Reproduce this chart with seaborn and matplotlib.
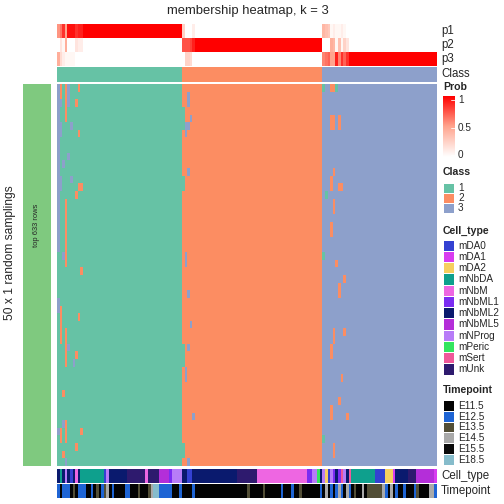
import numpy as np
import matplotlib
matplotlib.use("Agg")
import matplotlib.pyplot as plt
import seaborn as sns
from matplotlib.colors import ListedColormap, LinearSegmentedColormap
from matplotlib.patches import Rectangle

W, H = 504, 504

# ---- data ----
N_ROWS = 50
col_class = [1] * 48 + [2] * 54 + [3] * 44

# membership probabilities per column (left to right)
p1 = [0.55, 0.65, 0.85, 0.5, 0.95, 0.95, 0.95, 0.85, 0.9, 0.9] + [1.0] * 38 \
    + [0.25, 0.0, 0.0, 0.0, 0.1] + [0.0] * 49 \
    + [0.4, 0.35, 0.3, 0.05, 0.1, 0.05, 0.05, 0.1, 0.05, 0.0] + [0.0] * 34
p2 = [0.0, 0.15, 0.05, 0.45, 0.0, 0.0, 0.0, 0.15, 0.1, 0.1] + [0.0] * 38 \
    + [0.75, 0.75, 0.75, 0.8, 0.9] + [1.0] * 49 \
    + [0.0, 0.0, 0.0, 0.45, 0.4, 0.05, 0.35, 0.05, 0.25, 0.15] + [0.0] * 34
p3 = [0.45, 0.2, 0.1, 0.05, 0.05, 0.05, 0.05, 0.0, 0.0, 0.0] + [0.0] * 38 \
    + [0.0, 0.25, 0.25, 0.2, 0.0] + [0.0] * 49 \
    + [0.6, 0.65, 0.7, 0.5, 0.5, 0.9, 0.6, 0.85, 0.7, 0.85] + [1.0] * 34

# class of each random sampling (row) for the columns that are not stable
unstable_cols = {
    0: "3333333333" "3333333333" "3311111133" "1111111111" "1111131111",
    1: "2231133111" "1133111111" "1111111112" "2222111111" "1111122111",
    2: "1111111111" "3111111111" "1131111111" "1111111111" "2111311121",
    3: "2222211111" "1111122222" "2222111111" "1122222111" "1111222113",
    4: "3331111113" "1111111111" "1111111111" "1111311111" "1111111111",
    5: "1111131111" "1131111111" "1111111111" "1111111111" "1111111111",
    6: "1111111111" "1111111111" "1111111111" "1111113111" "1111111111",
    7: "1121111111" "1111211111" "1111111111" "1111121111" "1111111211",
    8: "2111112111" "1112111111" "1111111111" "2111111111" "1111111111",
    9: "1111111111" "1112111111" "1111211111" "1111111111" "1111121111",
    48: "2221112222" "2211222222" "2222222222" "2222111222" "2222222112",
    49: "2222233222" "2222222222" "2233222222" "2222222332" "2222222222",
    50: "2332232222" "2322222222" "2222222322" "2222322222" "2222222223",
    51: "2222322222" "2222222222" "2222222222" "2322222222" "2222222222",
    52: "2222222222" "2222222222" "2222222222" "2222222222" "2223222222",
    102: "1333333333" "3333333333" "3313333333" "3333333333" "3333331333",
    103: "3333333333" "3333133333" "3333333333" "3333333333" "3333333333",
    105: "2333223333" "3322333322" "3333333333" "3333223333" "3322333333",
    106: "2333223333" "3233322333" "3333333333" "3322333333" "3333333223",
    107: "1333333333" "3333333333" "3332333333" "3333333333" "3333333333",
    108: "3333223333" "3332333333" "3333332233" "3333333333" "3233333333",
    109: "3333333333" "3332333333" "3333333333" "3333333323" "3333333333",
    110: "3333333333" "3333333333" "3333323333" "3323333333" "3333333333",
    111: "3333333333" "3333333333" "3333333333" "3333333333" "3332333333",
}

cell_types = ["mDA0", "mDA1", "mDA2", "mNbDA", "mNbM", "mNbML1", "mNbML2",
              "mNbML5", "mNProg", "mPeric", "mSert", "mUnk"]
cell_colors = ["#3441D2", "#D83CF0", "#F6CF5F", "#0EA08D", "#EE66E2", "#7B2CF2",
               "#0A1A6E", "#B42ED9", "#B77CF8", "#33E55F", "#F0589A", "#2E1A6E"]
cell_type_runs = [
    ("mNbML2", 1), ("mNbDA", 1), ("mNbML2", 1), ("mNProg", 1), ("mNbML2", 1),
    ("mDA0", 1), ("mNbML2", 1), ("mNbM", 1), ("mNbML2", 1), ("mNbDA", 9),
    ("mDA0", 1), ("mNProg", 1), ("mNbML2", 7), ("mUnk", 7), ("mNbM", 1),
    ("mUnk", 4), ("mNbML5", 4), ("mNbML1", 1), ("mNProg", 4),
    ("mNbML2", 2), ("mDA0", 2), ("mNbML2", 17), ("mUnk", 8), ("mNbM", 19),
    ("mNbML1", 2), ("mNProg", 2), ("mPeric", 1), ("mNbML2", 1),
    ("mNProg", 1), ("mDA2", 1), ("mDA0", 1), ("mNProg", 1), ("mNbML1", 1),
    ("mNbML2", 1), ("mNbML1", 1), ("mSert", 1), ("mNProg", 1), ("mNbML2", 1),
    ("mSert", 1), ("mNbDA", 9), ("mDA0", 4), ("mDA2", 3), ("mDA1", 1),
    ("mNbML2", 5), ("mUnk", 3), ("mNbML5", 7), ("mDA1", 1),
]

timepoints = ["E11.5", "E12.5", "E13.5", "E14.5", "E15.5", "E18.5"]
time_colors = ["#030303", "#1E64D4", "#524E36", "#A9A9A9", "#0A0A0A", "#86BCCB"]
timepoint_runs = [
    ("E12.5", 1), ("E11.5", 1), ("E12.5", 3), ("E11.5", 1), ("E13.5", 1),
    ("E11.5", 1), ("E12.5", 3), ("E11.5", 2), ("E12.5", 1), ("E11.5", 1),
    ("E13.5", 1), ("E11.5", 1), ("E12.5", 1), ("E13.5", 1), ("E14.5", 1),
    ("E11.5", 1), ("E12.5", 1), ("E11.5", 4), ("E12.5", 2), ("E11.5", 3),
    ("E13.5", 1), ("E11.5", 3), ("E13.5", 1), ("E14.5", 1), ("E18.5", 2),
    ("E12.5", 5), ("E11.5", 3), ("E12.5", 1),
    ("E11.5", 4), ("E12.5", 1), ("E11.5", 20), ("E13.5", 1), ("E11.5", 5),
    ("E13.5", 1), ("E11.5", 6), ("E12.5", 1), ("E11.5", 3), ("E12.5", 1),
    ("E11.5", 2), ("E13.5", 1), ("E11.5", 7), ("E12.5", 1),
    ("E11.5", 1), ("E14.5", 1), ("E11.5", 1), ("E12.5", 1), ("E11.5", 1),
    ("E12.5", 1), ("E14.5", 1), ("E12.5", 1), ("E11.5", 1), ("E14.5", 1),
    ("E12.5", 1), ("E11.5", 1), ("E13.5", 1), ("E11.5", 2), ("E14.5", 1),
    ("E11.5", 1), ("E13.5", 6), ("E14.5", 1), ("E12.5", 1), ("E11.5", 1),
    ("E14.5", 1), ("E11.5", 1), ("E12.5", 1), ("E11.5", 2), ("E12.5", 1),
    ("E11.5", 3), ("E12.5", 1), ("E13.5", 1), ("E11.5", 4), ("E14.5", 2),
    ("E12.5", 1),
]

class_colors = ["#66C2A5", "#FC8D62", "#8DA0CB"]

# ---- build matrices ----
membership = np.tile(col_class, (N_ROWS, 1))
for c, s in unstable_cols.items():
    membership[:, c] = [int(ch) for ch in s]

cell_idx = [cell_types.index(n) for n, k in cell_type_runs for _ in range(k)]
time_idx = [timepoints.index(n) for n, k in timepoint_runs for _ in range(k)]

# ---- style ----
sns.set_theme(style="white")
plt.rcParams["font.family"] = ["Liberation Sans", "DejaVu Sans"]

prob_cmap = LinearSegmentedColormap.from_list(
    "prob", [(0, "#FFFFFF"), (0.5, "#FFA58F"), (1, "#FF0000")])
class_cmap = ListedColormap(class_colors)

fig = plt.figure(figsize=(W / 72, H / 72), dpi=72)


def box(x0, y0, x1, y1):
    return [x0 / W, 1 - y1 / H, (x1 - x0) / W, (y1 - y0) / H]


def draw(mat, cmap, y0, y1, vmin, vmax):
    ax = fig.add_axes(box(57, y0, 437, y1))
    sns.heatmap(np.atleast_2d(mat), cmap=cmap, vmin=vmin, vmax=vmax, cbar=False,
                xticklabels=False, yticklabels=False, ax=ax)
    ax.set_xlabel("")
    ax.set_ylabel("")
    return ax


# top probability annotations + class
draw(p1, prob_cmap, 24, 38, 0, 1)
draw(p2, prob_cmap, 38, 52, 0, 1)
draw(p3, prob_cmap, 52, 66, 0, 1)
draw(col_class, class_cmap, 67, 82, 0.5, 3.5)

# main membership heatmap
draw(membership, class_cmap, 84, 466, 0.5, 3.5)

# bottom annotations
draw(cell_idx, ListedColormap(cell_colors), 469, 483, -0.5, len(cell_types) - 0.5)
draw(time_idx, ListedColormap(time_colors), 484, 498, -0.5, len(timepoints) - 0.5)

# overlay for text and legends (pixel coordinates)
ov = fig.add_axes([0, 0, 1, 1])
ov.axis("off")

ov.text(248, 11, "membership heatmap, k = 3", ha="center", va="center", fontsize=13)

# row split bar on the left
ov.add_patch(Rectangle((23, 84), 28, 382, color="#7FC97F", lw=0))
ov.text(37, 225, "top 633 rows", rotation=90, ha="center", va="center", fontsize=7.5)
ov.text(10, 253, "50 x 1 random samplings", rotation=90, ha="center", va="center",
        fontsize=12)

for lab, y in [("p1", 31), ("p2", 45), ("p3", 59), ("Class", 74),
               ("Cell_type", 476), ("Timepoint", 491)]:
    ov.text(441, y, lab, ha="left", va="center", fontsize=11.5)

# Prob legend
ov.text(443, 87, "Prob", ha="left", va="center", fontsize=10.5, fontweight="bold")
ov.imshow(np.linspace(1, 0, 200)[:, None], cmap=prob_cmap, vmin=0, vmax=1,
          extent=(443, 455, 96, 157), origin="lower", aspect="auto")
for v, y in [("1", 100), ("0.5", 128), ("0", 155)]:
    ov.plot([451, 455], [y, y], color="white", lw=0.8)
    ov.text(458, y, v, ha="left", va="center", fontsize=10)


def legend_block(title, title_y, labels, colors, top, step):
    ov.text(443, title_y, title, ha="left", va="center", fontsize=10.5, fontweight="bold")
    for i, (lab, col) in enumerate(zip(labels, colors)):
        y = top + i * step
        ov.add_patch(Rectangle((443.5, y + 0.5), 10, step - 1, color=col, lw=0))
        ov.text(458, y + step / 2, lab, ha="left", va="center", fontsize=10)


legend_block("Class", 172, ["1", "2", "3"], class_colors, 183, 10)
legend_block("Cell_type", 231, cell_types, cell_colors, 240, 11.25)
legend_block("Timepoint", 390, timepoints, time_colors, 400.5, 10.75)

ov.set_xlim(0, W)
ov.set_ylim(H, 0)

fig.savefig("out.png", dpi=72)
